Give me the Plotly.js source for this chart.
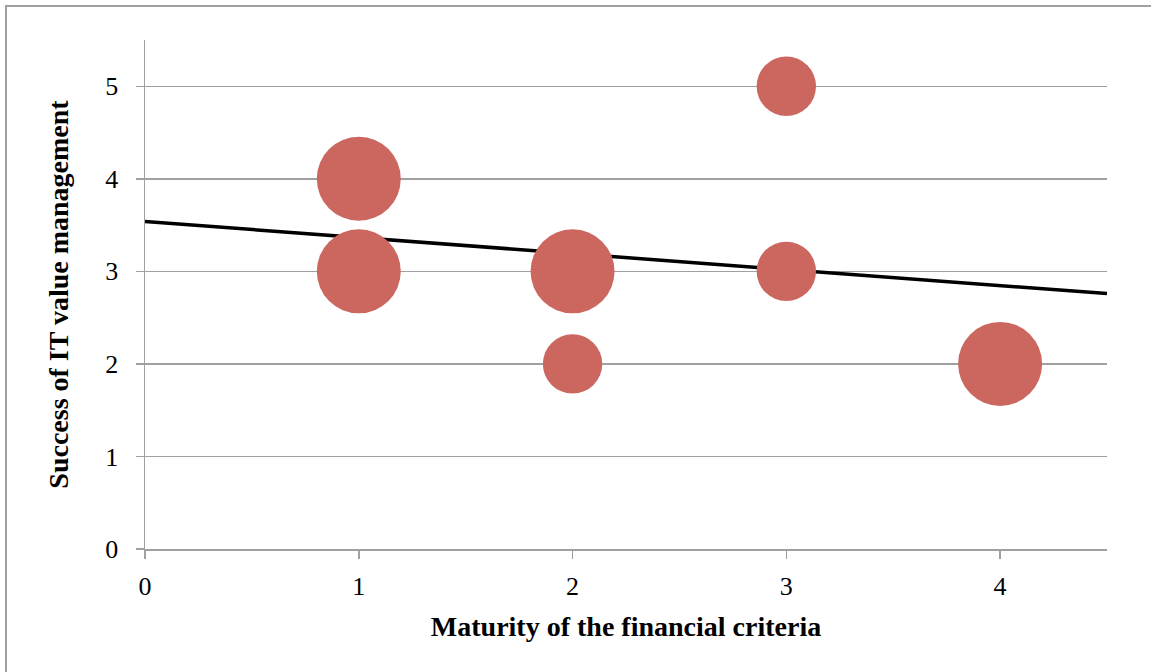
<!DOCTYPE html>
<html>
<head>
<meta charset="utf-8">
<script src="https://cdn.plot.ly/plotly-3.0.1.min.js"></script>
<style>
  html, body { margin: 0; padding: 0; overflow: hidden; background: #fff; }
  #chart { position: absolute; left: 0; top: 0; width: 1151px; height: 672px; }
  #frame { position: absolute; left: 5px; top: 5px; width: 1200px; height: 720px;
           border: 2px solid #a0a0a0; pointer-events: none; }
</style>
</head>
<body>
<div id="chart"></div>
<div id="frame"></div>
<script>
// Data
var maturity = [1, 1, 2, 2, 3, 3, 4];          // x: Maturity of the financial criteria
var success  = [4, 3, 3, 2, 5, 3, 2];          // y: Success of IT value management
var weight   = [2, 2, 2, 1, 1, 1, 2];          // bubble size (relative)
var xTicks = [0, 1, 2, 3, 4];
var yTicks = [0, 1, 2, 3, 4, 5];

// Linear trendline (least squares on the points)
var n = maturity.length, sx = 0, sy = 0, sxx = 0, sxy = 0;
for (var i = 0; i < n; i++) {
  sx += maturity[i]; sy += success[i];
  sxx += maturity[i] * maturity[i]; sxy += maturity[i] * success[i];
}
var slope = (n * sxy - sx * sy) / (n * sxx - sx * sx);
var intercept = (sy - slope * sx) / n;
var xRange = [0, 4.5];
var trendX = xRange.slice();
var trendY = trendX.map(function (v) { return intercept + slope * v; });

var maxW = Math.max.apply(null, weight);
var maxDiameter = 84;

var bubbles = {
  type: 'scatter', mode: 'markers',
  x: maturity, y: success,
  marker: {
    size: weight, sizemode: 'area',
    sizeref: 2 * maxW / (maxDiameter * maxDiameter),
    color: '#cc675f', line: { width: 0 }, opacity: 1
  },
  hoverinfo: 'x+y', showlegend: false
};

var trend = {
  type: 'scatter', mode: 'lines',
  x: trendX, y: trendY,
  line: { color: '#000000', width: 3.5 },
  hoverinfo: 'skip', showlegend: false
};

var font = 'Liberation Serif, Times New Roman, serif';
var layout = {
  width: 1151, height: 672,
  margin: { l: 145, r: 44, t: 40, b: 123, pad: 0 },
  paper_bgcolor: '#ffffff', plot_bgcolor: '#ffffff',
  showlegend: false,
  font: { family: font, color: '#000000', size: 24 },
  xaxis: {
    range: xRange, tickvals: xTicks, ticktext: xTicks.map(String),
    showgrid: false, zeroline: false,
    showline: true, linecolor: '#a0a0a0', linewidth: 1.5,
    ticks: 'outside', ticklen: 8, tickwidth: 1.5, tickcolor: '#a0a0a0',
    tickfont: { family: font, size: 26, color: '#000' },
    ticklabelstandoff: 5,
    title: { text: 'Maturity of the financial criteria', standoff: 16,
             font: { family: font, size: 28, color: '#000', weight: 'bold' } }
  },
  yaxis: {
    range: [0, 5.5], tickvals: yTicks, ticktext: yTicks.map(String),
    showgrid: true, gridcolor: '#a0a0a0', gridwidth: 1.5,
    zeroline: false,
    showline: true, linecolor: '#a0a0a0', linewidth: 1.5,
    ticks: 'outside', ticklen: 8, tickwidth: 1.5, tickcolor: '#a0a0a0',
    tickfont: { family: font, size: 26, color: '#000' },
    ticklabelstandoff: 12,
    title: { text: 'Success of IT value management', standoff: 28,
             font: { family: font, size: 28, color: '#000', weight: 'bold' } }
  }
};

Plotly.newPlot('chart', [trend, bubbles], layout, { displayModeBar: false, staticPlot: true });
</script>
</body>
</html>
